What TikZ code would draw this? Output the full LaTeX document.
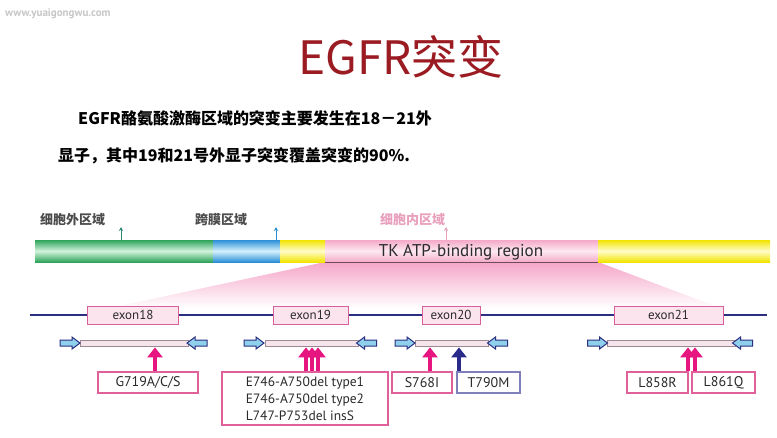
\documentclass[tikz,border=0pt]{standalone}
\usepackage{fontspec}
\setmainfont{PT Sans}
\newfontfamily\cjk{Noto Sans CJK SC}
\usetikzlibrary{arrows.meta,calc}
\definecolor{titlered}{HTML}{9B1B22}
\definecolor{gA}{HTML}{2EA45A}\definecolor{gB}{HTML}{D2F3DC}
\definecolor{bA}{HTML}{2C8FD6}\definecolor{bB}{HTML}{D4F1FD}
\definecolor{yA}{HTML}{F2E400}\definecolor{yB}{HTML}{FFFCC8}
\definecolor{pA}{HTML}{F4A9C8}\definecolor{pB}{HTML}{FDE9F1}
\definecolor{fanpink}{HTML}{F5A6C8}
\definecolor{navy}{HTML}{2B2F80}
\definecolor{exonpink}{HTML}{D8609A}\definecolor{exonfill}{HTML}{FBE4EE}
\definecolor{mutpink}{HTML}{E0609A}
\definecolor{magentaA}{HTML}{E6157F}
\definecolor{navyA}{HTML}{2A2A8A}
\definecolor{primblue}{HTML}{8FD0EC}
\definecolor{barfill}{HTML}{F6E4EC}\definecolor{bardraw}{HTML}{9C8A90}
\definecolor{txtgray}{HTML}{2A2A2A}
\definecolor{lblpink}{HTML}{E8A0BC}
\definecolor{teal}{HTML}{2E8B7A}
\tikzset{
  exonbox/.style={draw=exonpink, fill=exonfill, line width=1pt, minimum height=18pt, inner sep=0pt, text=txtgray, font=\fontsize{13}{13}\selectfont},
  mutbox/.style={draw=mutpink, fill=white, line width=1.2pt, minimum height=21pt, inner sep=0pt, text=txtgray, font=\fontsize{14}{14}\selectfont},
  mutarrow/.style={line width=4pt, -{Triangle[width=15pt,length=10pt]}, draw=magentaA},
  primerbar/.style={draw=bardraw, fill=barfill, line width=0.8pt, minimum height=6pt, inner sep=0pt},
  rprim/.pic={\filldraw[fill=primblue, draw=navy, line width=1pt] (-10,-3) -- (2,-3) -- (2,-6) -- (10,0) -- (2,6) -- (2,3) -- (-10,3) -- cycle;},
  lprim/.pic={\filldraw[fill=primblue, draw=navy, line width=1pt] (10,-3) -- (-2,-3) -- (-2,-6) -- (-10,0) -- (-2,6) -- (-2,3) -- (10,3) -- cycle;},
  ticklbl/.style={font=\cjk\bfseries\fontsize{13}{13}\selectfont, anchor=base west, inner sep=0pt}
}
\begin{document}
\begin{tikzpicture}[x=1pt,y=-1pt]
\useasboundingbox[fill=white] (0,0) rectangle (777,437);
% watermark
\node[font=\bfseries\fontsize{11}{11}\selectfont, text=black!22, anchor=base west, inner sep=0pt] (wm) at (5,16) {www.yuaigongwu.com};
% title
\node[font=\cjk\fontsize{46}{46}\selectfont, text=titlered, anchor=base, inner sep=0pt] (title) at (401,74) {EGFR突变};
\node[font=\cjk\bfseries\fontsize{16}{16}\selectfont, anchor=base west, inner sep=0pt] (l1) at (78,124) {EGFR酪氨酸激酶区域的突变主要发生在18－21外};
\node[font=\cjk\bfseries\fontsize{16}{16}\selectfont, anchor=base west, inner sep=0pt] (l2) at (58,161) {显子，其中19和21号外显子突变覆盖突变的90\%.};
% fan
\shade[top color=fanpink, bottom color=white] (325,262) -- (598,262) -- (720,308) -- (110,308) -- cycle;
% upper bar
\shade[top color=gA, bottom color=gA, middle color=gB] (35,240) rectangle (213,262);
\shade[top color=bA, bottom color=bA, middle color=bB] (213,240) rectangle (280,262);
\shade[top color=yA, bottom color=yA, middle color=yB] (280,240) rectangle (325,262);
\shade[top color=pA, bottom color=pA, middle color=pB] (325,240) rectangle (598,262);
\shade[top color=yA, bottom color=yA, middle color=yB] (598,240) rectangle (770,262);
\draw[line width=0.8pt, draw=black!55!pA] (325,262) -- (598,262);
\node[font=\fontsize{17}{17}\selectfont, text=txtgray, inner sep=0pt] (tk) at (461,252) {TK ATP-binding region};
% domain labels and ticks
\node[ticklbl, text=black!70] (ec) at (40,224) {细胞外区域};
\node[ticklbl, text=black!70] (tm) at (195,224) {跨膜区域};
\node[ticklbl, text=lblpink] (ic) at (380,224) {细胞内区域};
\coordinate (t1) at (121,240); \coordinate (t1e) at (121,227);
\coordinate (t2) at (276,240); \coordinate (t2e) at (276,227);
\coordinate (t3) at (446,240); \coordinate (t3e) at (446,227);
\draw[teal, line width=1pt, -{Stealth[length=4pt,width=4pt]}] (t1) -- (t1e);
\draw[bA, line width=1pt, -{Stealth[length=4pt,width=4pt]}] (t2) -- (t2e);
\draw[lblpink, line width=1pt, -{Stealth[length=4pt,width=4pt]}] (t3) -- (t3e);
% gene line
\coordinate (gl) at (30,315); \coordinate (gr) at (767,315);
\draw[navy, line width=1.8pt] (gl) -- (gr);
\node[exonbox, minimum width=91pt] (ex18) at (133,315) {exon18};
\node[exonbox, minimum width=75pt] (ex19) at (310.5,315) {exon19};
\node[exonbox, minimum width=58pt] (ex20) at (451,315) {exon20};
\node[exonbox, minimum width=109pt] (ex21) at (668.5,315) {exon21};
% primer bars
\node[primerbar, minimum width=108pt] (bar18) at (134,343) {};
\node[primerbar, minimum width=93pt] (bar19) at (311.5,343) {};
\node[primerbar, minimum width=73pt] (bar20) at (451.5,343) {};
\node[primerbar, minimum width=128pt] (bar21) at (671,343) {};
\pic at (70,343) {rprim}; \pic at (197,343) {lprim};
\pic at (254,343) {rprim}; \pic at (366.5,343) {lprim};
\pic at (405,343) {rprim}; \pic at (497.5,343) {lprim};
\pic at (597.5,343) {rprim}; \pic at (742.5,343) {lprim};
% mutation boxes
\node[mutbox, minimum width=100pt] (m18) at (148,382.5) {G719A/C/S};
\node[mutbox, minimum width=166pt, minimum height=53pt, align=left, font=\fontsize{13.5}{17}\selectfont] (m19) at (305,398.5) {E746-A750del type1\\E746-A750del type2\\L747-P753del insS};
\node[mutbox, minimum width=60pt] (m768) at (422,382.5) {S768I};
\node[mutbox, minimum width=63pt, draw=navyA!60] (m790) at (488.5,382.5) {T790M};
\node[mutbox, minimum width=61pt] (m858) at (657.5,382.5) {L858R};
\node[mutbox, minimum width=63pt] (m861) at (723.5,382.5) {L861Q};
% mutation arrows
\coordinate (a18) at (155,0);
\coordinate (a19a) at (306,0); \coordinate (a19b) at (312,0); \coordinate (a19c) at (318,0);
\coordinate (a768) at (430,0); \coordinate (a790) at (459,0);
\coordinate (a858) at (688,0); \coordinate (a861) at (695,0);
\draw[mutarrow] (m18.north -| a18) -- ($(bar18.south -| a18)+(0,1)$);
\draw[mutarrow] (m19.north -| a19a) -- ($(bar19.south -| a19a)+(0,1)$);
\draw[mutarrow] (m19.north -| a19b) -- ($(bar19.south -| a19b)+(0,1)$);
\draw[mutarrow] (m19.north -| a19c) -- ($(bar19.south -| a19c)+(0,1)$);
\draw[mutarrow] (m768.north -| a768) -- ($(bar20.south -| a768)+(0,1)$);
\draw[mutarrow, draw=navyA] (m790.north -| a790) -- ($(bar20.south -| a790)+(0,1)$);
\draw[mutarrow] (m858.north -| a858) -- ($(bar21.south -| a858)+(0,1)$);
\draw[mutarrow] (m861.north -| a861) -- ($(bar21.south -| a861)+(0,1)$);
\end{tikzpicture}
\end{document}
